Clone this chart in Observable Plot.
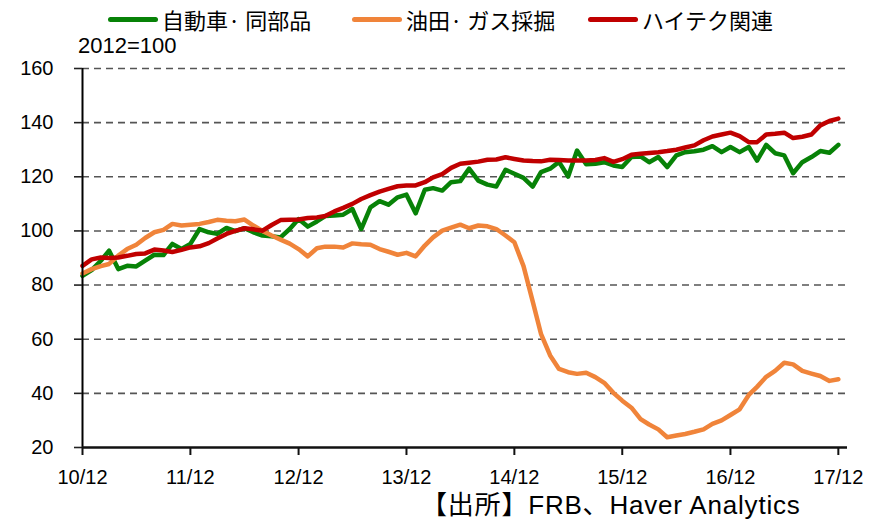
<!DOCTYPE html>
<html><head><meta charset="utf-8">
<script src="https://cdn.jsdelivr.net/npm/d3@7"></script>
<script src="https://cdn.jsdelivr.net/npm/@observablehq/plot@0.6"></script>
<style>
body{margin:0;background:#fff;}
#wrap{position:relative;width:881px;height:521px;overflow:hidden;background:#fff;}
#chart{position:absolute;left:0;top:0;}
.leg{position:absolute;top:5px;height:28px;display:flex;align-items:center;font-family:"Noto Sans CJK JP",sans-serif;font-size:22px;line-height:28px;color:#000;white-space:nowrap;}
.sw{display:inline-block;width:50px;height:5px;border-radius:3px;margin-right:4px;}
#unit{position:absolute;left:78px;top:33px;font-family:"Liberation Sans",Arial,sans-serif;font-size:22px;line-height:26px;color:#000;}
#caption{position:absolute;left:421px;top:491px;font-family:"Liberation Sans","Noto Sans CJK JP",sans-serif;font-size:26px;line-height:29px;height:29px;color:#000;white-space:nowrap;letter-spacing:0.8px;}
</style></head><body>
<div id="wrap">
<div id="chart"></div>
<div id="legend"></div>
<div id="unit">2012=100</div>
<div id="caption">【出所】FRB、Haver Analytics</div>
</div>
<script>
// Monthly index values, Dec 2010 .. Dec 2017 (85 months)
const seriesNames = ["自動車· 同部品", "油田· ガス採掘", "ハイテク関連"];
const seriesColors = ["#078207", "#f0843a", "#c00000"];
const autoParts = [
  83.4,85.5,89,92.7,85.9,87.1,86.9,89,91.2,91.1,95.2,93.3,
  95.2,100.7,99.5,98.9,101.1,99.9,101,99.5,98.3,98,97.6,100.7,
  104.4,101.6,103.5,105.5,105.7,106,108.1,100.7,108.7,111,109.7,112.4,
  113.4,106.5,115.2,115.8,114.9,118,118.4,123,118.6,117.1,116.4,122.6,
  121.1,119.6,116.4,121.7,123,125.5,120.1,129.7,124.6,124.8,125.4,124.2,
  123.6,127.3,127.5,125.4,127.3,123.6,127.9,129.1,129.4,130,131.3,129.1,
  131,129.1,131,126,131.8,128.7,127.9,121.3,125.4,127.3,129.5,128.9,
  131.8
];
const oilGas = [
  84.3,85.9,87,87.8,90.9,93.3,94.9,97.4,99.5,100.4,102.6,102,
  102.3,102.6,103.3,104.1,103.8,103.6,104.2,102,100,98.3,96.8,95.3,
  93.3,90.6,93.6,94.2,94.2,93.9,95.4,95.1,94.9,93.3,92.3,91.2,
  91.9,90.6,94.6,97.6,100.1,101.2,102.3,101,102,101.7,100.7,98.3,
  95.8,87,74,62,54,49,47.8,47.2,47.6,46,43.9,40.2,
  37.3,34.7,30.5,28.5,26.7,23.8,24.4,25,25.8,26.7,28.7,30,
  32,34.1,39.4,42.4,46.1,48.3,51.3,50.7,48.3,47.3,46.4,44.6,
  45.2
];
const hiTech = [
  87.1,89.5,90.2,90,90.2,90.8,91.5,91.7,93.1,92.8,92.2,93,
  93.9,94.3,95.5,97.2,98.9,100,101,100.6,100.1,102.2,104,104.1,
  104.2,104.8,105,105.5,107.2,108.5,110,111.8,113.2,114.5,115.5,116.5,
  116.8,116.8,118,119.8,121,123.3,124.8,125.2,125.6,126.3,126.4,127.2,
  126.6,126,125.8,125.7,126.3,126.2,126,126,126,126.2,126.9,125.5,
  126.5,128.1,128.5,128.8,129.1,129.5,130,130.8,131.6,133.5,134.9,135.6,
  136.3,135,132.8,132.8,135.6,135.9,136.3,134.3,134.8,135.6,139,140.6,
  141.5
];
const yTicks = [20, 40, 60, 80, 100, 120, 140, 160];
const xTickYears = [2010, 2011, 2012, 2013, 2014, 2015, 2016, 2017];

const months = d3.range(autoParts.length).map(i => new Date(Date.UTC(2010, 11 + i, 1)));
const allSeries = [autoParts, oilGas, hiTech];
const rows = allSeries.flatMap((vals, s) => vals.map((v, i) => ({date: months[i], value: v, name: seriesNames[s]})));
const xTicks = xTickYears.map(y => new Date(Date.UTC(y, 11, 1)));

// legend
const legend = document.getElementById("legend");
const legLefts = [108, 352, 588];
seriesNames.forEach((n, i) => {
  const d = document.createElement("div");
  d.className = "leg";
  d.style.left = legLefts[i] + "px";
  d.innerHTML = `<span class="sw" style="background:${seriesColors[i]}"></span><span>${n}</span>`;
  legend.appendChild(d);
});

const chart = Plot.plot({
  width: 881,
  height: 521,
  marginTop: 68,
  marginBottom: 74,
  marginLeft: 82,
  marginRight: 34,
  style: {fontFamily: "'Liberation Sans', Arial, sans-serif", fontSize: "20px", color: "#000", background: "#fff"},
  x: {type: "utc", domain: [new Date(Date.UTC(2010, 11, 1)), new Date(Date.UTC(2018, 0, 1))]},
  y: {domain: [20, 160]},
  color: {domain: seriesNames, range: seriesColors},
  marks: [
    Plot.gridY(yTicks.filter(t => t > 20), {stroke: "#555", strokeOpacity: 1, strokeWidth: 1.6, strokeDasharray: "7,5"}),
    Plot.lineY(rows, {x: "date", y: "value", stroke: "name", z: "name", strokeWidth: 4.5, strokeLinejoin: "round", strokeLinecap: "round"}),
    Plot.ruleX([months[0]], {stroke: "#000", strokeWidth: 2}),
    Plot.ruleY([20], {stroke: "#111", strokeWidth: 2.5}),
    Plot.axisY(yTicks, {tickSize: 8, tickPadding: 21, stroke: "#222", strokeWidth: 1.6, label: null, fontSize: 20}),
    Plot.axisX(xTicks, {tickSize: 8, tickPadding: 14, stroke: "#111", strokeWidth: 2, label: null, fontSize: 20,
      tickFormat: d => String(d.getUTCFullYear() % 100).padStart(2, "0") + "/12"})
  ]
});
document.getElementById("chart").appendChild(chart);
</script>
</body></html>
